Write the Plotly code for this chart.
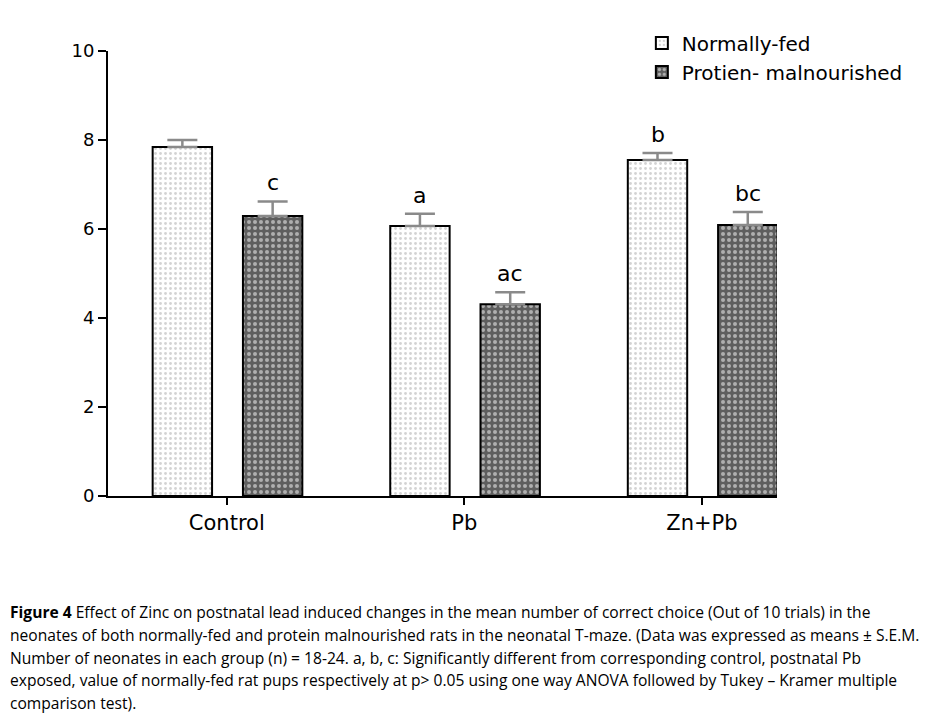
import plotly.graph_objects as go

categories = ["Control", "Pb", "Zn+Pb"]
normal_mean = [7.84, 6.07, 7.55]
normal_sem = [0.16, 0.27, 0.16]
mal_mean = [6.29, 4.31, 6.09]
mal_sem = [0.33, 0.27, 0.29]
normal_letters = ["", "a", "b"]
mal_letters = ["c", "ac", "bc"]
y_ticks = [0, 2, 4, 6, 8, 10]

caption_lines = [
    "<b>Figure 4</b> Effect of Zinc on postnatal lead induced changes in the mean number of correct choice (Out of 10 trials) in the",
    "neonates of both normally-fed and protein malnourished rats in the neonatal T-maze. (Data was expressed as means ± S.E.M.",
    "Number of neonates in each group (n) = 18-24. a, b, c: Significantly different from corresponding control, postnatal Pb",
    "exposed, value of normally-fed rat pups respectively at p> 0.05 using one way ANOVA followed by Tukey – Kramer multiple",
    "comparison test).",
]

font_chart = "DejaVu Sans, Verdana, sans-serif"
xpos = list(range(len(categories)))

L, R, T, B = 100, 171, 43, 229
plot_w = 940 - L - R
plot_h = 717 - T - B

fig = go.Figure()
fig.add_trace(go.Bar(
    name="Normally-fed", x=xpos, y=normal_mean, width=0.25, offset=-0.312,
    marker=dict(color="white", line=dict(color="black", width=2),
                pattern=dict(shape=".", fgcolor="#a8a8a8", bgcolor="white", size=5, solidity=0.25)),
    error_y=dict(type="data", array=normal_sem, arrayminus=[0]*3, symmetric=False,
                 color="#8a8a8a", thickness=2.5, width=15),
))
fig.add_trace(go.Bar(
    name="Protien- malnourished", x=xpos, y=mal_mean, width=0.25, offset=0.068,
    marker=dict(color="#707070", line=dict(color="black", width=2),
                pattern=dict(shape=".", fgcolor="white", bgcolor="#5e5e5e", size=6, solidity=0.35)),
    error_y=dict(type="data", array=mal_sem, arrayminus=[0]*3, symmetric=False,
                 color="#8a8a8a", thickness=2.5, width=15),
))

annotations = []
for i in range(len(categories)):
    if normal_letters[i]:
        annotations.append(dict(x=i - 0.312 + 0.125, y=normal_mean[i] + normal_sem[i], xref="x", yref="y",
                                text=normal_letters[i], showarrow=False, yanchor="bottom", yshift=4,
                                font=dict(family=font_chart, size=22, color="black")))
    if mal_letters[i]:
        annotations.append(dict(x=i + 0.068 + 0.125, y=mal_mean[i] + mal_sem[i], xref="x", yref="y",
                                text=mal_letters[i], showarrow=False, yanchor="bottom", yshift=4,
                                font=dict(family=font_chart, size=22, color="black")))

# caption lines: first line center at ~612 px, spacing ~22.8 px (screen coords, body offset 8)
for k, line in enumerate(caption_lines):
    center_screen = 612 + k * 22.8
    y_paper = (717 - B - (center_screen - 8)) / plot_h
    annotations.append(dict(x=-L / plot_w, y=y_paper, xref="paper", yref="paper", text=line,
                            showarrow=False, xanchor="left", yanchor="middle", align="left",
                            font=dict(family="Open Sans, sans-serif", size=15.6, color="black")))

fig.update_layout(
    width=940, height=717,
    paper_bgcolor="white", plot_bgcolor="white",
    margin=dict(l=L, r=R, t=T, b=B, autoexpand=False),
    showlegend=True,
    legend=dict(x=0.798, y=1.062, xanchor="left", yanchor="top", bgcolor="rgba(0,0,0,0)",
                font=dict(family=font_chart, size=20, color="black"), tracegroupgap=4),
    annotations=annotations,
    xaxis=dict(range=[-0.5, 2.316], tickvals=xpos, ticktext=categories, showline=True, linecolor="black",
               linewidth=2, ticks="outside", ticklen=7, tickwidth=1.5, tickcolor="black",
               showgrid=False, zeroline=False, automargin=False,
               tickfont=dict(family=font_chart, size=21, color="black")),
    yaxis=dict(range=[0, 10], tickvals=y_ticks, showline=True, linecolor="black", linewidth=2,
               ticks="outside", ticklen=8, tickwidth=2, tickcolor="black", showgrid=False, zeroline=False,
               automargin=False,
               tickfont=dict(family=font_chart, size=18, color="black")),
)

fig.write_html("out.html")
